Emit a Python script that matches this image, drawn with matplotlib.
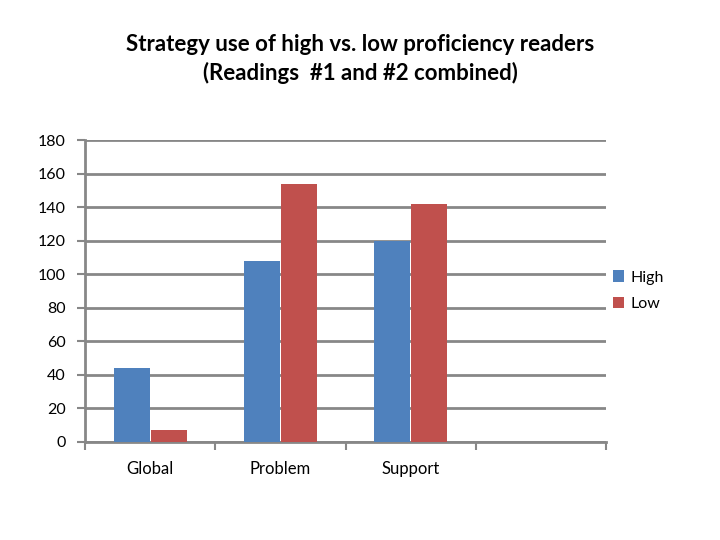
import numpy as np
import matplotlib
matplotlib.use('Agg')
import matplotlib.pyplot as plt

plt.rcParams['font.family'] = ['Lato', 'DejaVu Sans']

# Данные
categories = ['Global', 'Problem', 'Support']
high = [44, 108, 120]
low = [7, 154, 142]
n_slots = 4  # четвёртая позиция на оси пустая

blue = '#4F81BD'
red = '#C0504D'
grid_col = '#878787'

fig = plt.figure(figsize=(7.2, 5.4), dpi=100)
ax = fig.add_axes([0.118, 0.1815, 0.724, 0.5592])

x = np.arange(len(categories))
w = 0.277
ax.bar(x - w / 2 - 0.003, high, width=w, color=blue, label='High', zorder=3)
ax.bar(x + w / 2 + 0.003, low, width=w, color=red, label='Low', zorder=3)

ax.set_xlim(-0.5, n_slots - 0.5)
ax.set_ylim(0, 180)
ax.set_yticks(np.arange(0, 181, 20))
ax.yaxis.grid(True, color=grid_col, linewidth=2, zorder=0)
ax.set_axisbelow(True)

ax.set_xticks(x)
ax.set_xticklabels(categories)
ax.set_xticks(np.arange(-0.5, n_slots, 1), minor=True)
ax.tick_params(axis='x', which='major', length=0, pad=14, labelsize=12)
ax.tick_params(axis='x', which='minor', length=6, width=1.5, color=grid_col)
ax.tick_params(axis='y', length=6, width=1.5, color=grid_col, pad=8, labelsize=11.5)

for s in ['top', 'right']:
    ax.spines[s].set_visible(False)
for s in ['left', 'bottom']:
    ax.spines[s].set_color(grid_col)
    ax.spines[s].set_linewidth(2)

fig.text(0.5, 0.917, 'Strategy use of high vs. low proficiency readers',
         ha='center', va='center', fontsize=16, fontweight='bold')
fig.text(0.5, 0.865, '(Readings  #1 and #2 combined)',
         ha='center', va='center', fontsize=16, fontweight='bold')

ax.legend(loc='upper left', bbox_to_anchor=(0.84, 0.514), bbox_transform=fig.transFigure,
          frameon=False, fontsize=11.5, handlelength=0.7, handleheight=0.7,
          handletextpad=0.4, labelspacing=0.75, borderpad=0)

fig.savefig('out.png', dpi=100)
